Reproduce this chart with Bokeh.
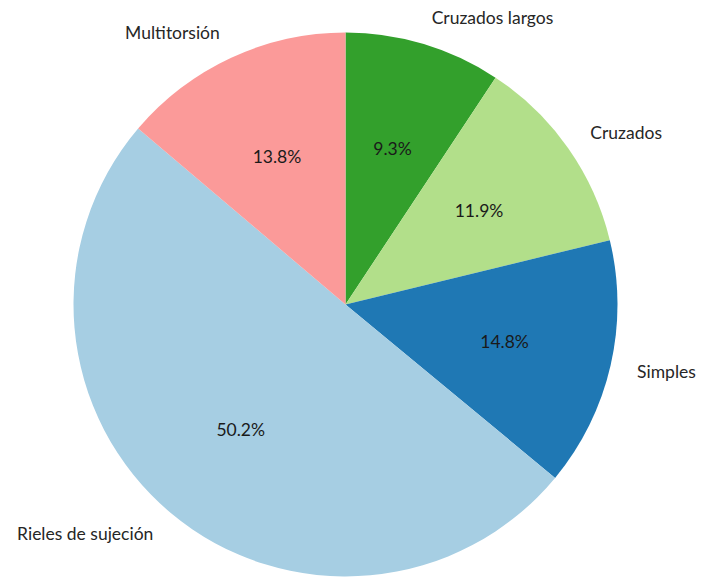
import numpy as np
from bokeh.plotting import figure
from bokeh.models import ColumnDataSource, Range1d
from bokeh.core.properties import value
from bokeh.embed import file_html
from bokeh.resources import INLINE

labels = ["Cruzados largos", "Cruzados", "Simples", "Rieles de sujeción", "Multitorsión"]
shares = [9.3, 11.9, 14.8, 50.2, 13.8]
colors = ["#33a02c", "#b2df8a", "#1f78b4", "#a6cee3", "#fb9a99"]

vals = np.array(shares, dtype=float)
frac = vals / vals.sum()
cum = np.concatenate([[0.0], np.cumsum(frac)])
start = np.pi / 2 - 2 * np.pi * cum[:-1]
end = np.pi / 2 - 2 * np.pi * cum[1:]
mid = (start + end) / 2

src = ColumnDataSource(dict(start=start, end=end, color=colors))

lab_r = 1.1
pct_r = 0.6
lx = lab_r * np.cos(mid)
ly = lab_r * np.sin(mid)
align = ["left" if x > 0 else "right" for x in lx]
lab_src = ColumnDataSource(dict(x=lx, y=ly, text=labels, align=align))
pct_src = ColumnDataSource(dict(x=pct_r * np.cos(mid), y=pct_r * np.sin(mid),
                                text=[f"{s:.1f}%" for s in shares]))

W, H = 702, 579
cx, cy, R = 345.0, 304.0, 272.0
p = figure(width=W, height=H, output_backend="svg", toolbar_location=None,
           x_range=Range1d(-cx / R, (W - cx) / R),
           y_range=Range1d(-(H - cy) / R, cy / R),
           min_border=0, outline_line_color=None)
p.axis.visible = False
p.grid.visible = False
p.background_fill_color = "white"

p.wedge(x=0, y=0, radius=1, start_angle="start", end_angle="end", direction="clock",
        fill_color="color", line_color=None, source=src)

p.text(x="x", y="y", text="text", text_align="align", text_baseline="middle",
       text_font=value("Lato"), text_font_size="17.5px", text_color="#262626", source=lab_src)
p.text(x="x", y="y", text="text", text_align="center", text_baseline="middle",
       text_font=value("Lato"), text_font_size="17.5px", text_color="#1a1a1a", source=pct_src)

open("out.html", "w").write(file_html(p, INLINE))
